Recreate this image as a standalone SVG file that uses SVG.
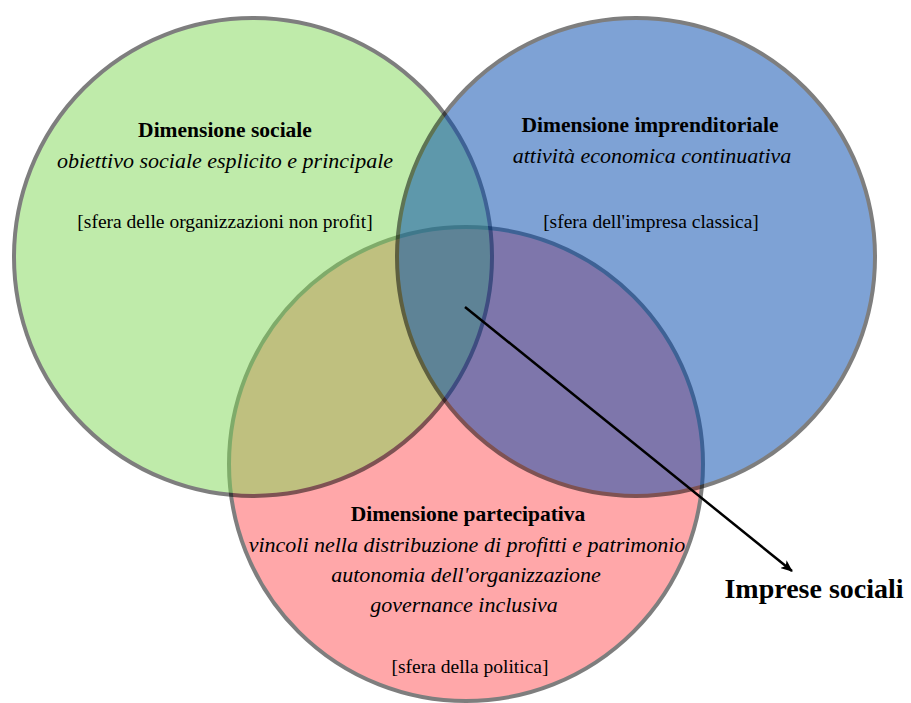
<svg xmlns="http://www.w3.org/2000/svg" width="911" height="703" viewBox="0 0 911 703">
<style>
.c{opacity:0.5;stroke:#000;stroke-width:4}
text{font-family:'Liberation Serif','Times New Roman','DejaVu Serif',serif;fill:#000;text-anchor:middle}
.b{font-weight:bold;font-size:21.5px}
.i{font-style:italic;font-size:22px}
.r{font-size:19.5px}
</style>
<defs>
<marker id="ah" viewBox="0 0 12 10" refX="11" refY="5" markerWidth="12" markerHeight="10" markerUnits="userSpaceOnUse" orient="auto">
<path d="M0,0 L12,5 L0,10 L3,5 Z" fill="#000"/>
</marker>
</defs>
<rect width="911" height="703" fill="#fff"/>
<g id="circle-partecipativa"><circle class="c" cx="466" cy="464" r="237" fill="#ff5155"/></g>
<g id="circle-sociale"><circle class="c" cx="253" cy="257" r="239" fill="#81d957"/></g>
<g id="circle-imprenditoriale"><circle class="c" cx="636" cy="257" r="239" fill="#0047ad"/></g>
<g id="label-sociale" font-family="Liberation Serif, serif">
<text class="b" x="225" y="137">Dimensione sociale</text>
<text class="i" x="225" y="168">obiettivo sociale esplicito e principale</text>
<text class="r" x="225" y="228">[sfera delle organizzazioni non profit]</text>
</g>
<g id="label-imprenditoriale" font-family="Liberation Serif, serif">
<text class="b" x="650" y="132">Dimensione imprenditoriale</text>
<text class="i" x="652" y="163">attività economica continuativa</text>
<text class="r" x="651" y="228">[sfera dell'impresa classica]</text>
</g>
<g id="label-partecipativa" font-family="Liberation Serif, serif">
<text class="b" x="468" y="521">Dimensione partecipativa</text>
<text class="i" x="467" y="552">vincoli nella distribuzione di profitti e patrimonio</text>
<text class="i" x="466" y="582">autonomia dell'organizzazione</text>
<text class="i" x="464" y="612">governance inclusiva</text>
<text class="r" x="470" y="673">[sfera della politica]</text>
</g>
<g id="connectors">
<line x1="465" y1="307" x2="792" y2="571" stroke="#000" stroke-width="2.5" marker-end="url(#ah)"/>
</g>
<g id="label-imprese" font-family="Liberation Serif, serif">
<text x="814" y="598" style="font-weight:bold;font-size:28px">Imprese sociali</text>
</g>
</svg>
